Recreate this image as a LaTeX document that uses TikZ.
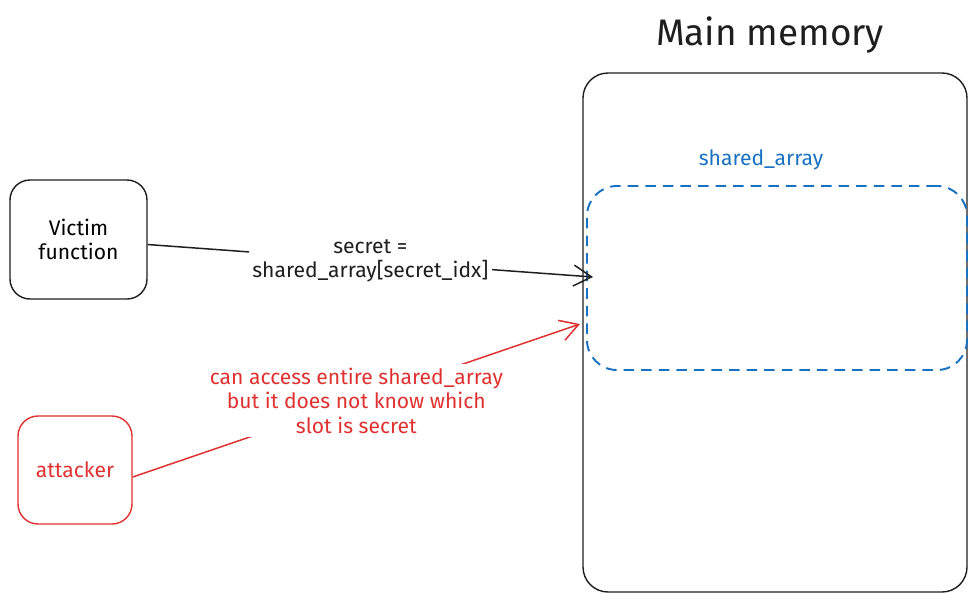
\documentclass[tikz,border=0pt]{standalone}
\usepackage{fontspec}
\setmainfont{Fira Sans}
\usetikzlibrary{arrows.meta,positioning}

\definecolor{inkblack}{HTML}{1E1E1E}
\definecolor{inkred}{HTML}{E03131}
\definecolor{inkblue}{HTML}{1971C2}

\begin{document}
\begin{tikzpicture}[
    box/.style={draw=inkblack, rectangle, rounded corners=0.4cm, line width=0.8pt, align=center, font=\fontsize{12}{14}\selectfont},
    redbox/.style={box, draw=inkred, text=inkred},
    arrow/.style={-{Straight Barb[length=0.36cm,width=0.42cm]}, line width=0.85pt, inkblack},
    redarrow/.style={arrow, inkred},
    lbl/.style={fill=white, align=center, font=\fontsize{12}{14}\selectfont, inner sep=2pt},
    node distance=0.5cm
]
\useasboundingbox (0,0) rectangle (19.52,-12.06);

% Main memory
\node[box, rounded corners=0.5cm, minimum width=7.68cm, minimum height=10.38cm] (mem) at (15.5,-6.65) {};
\node[font=\fontsize{21}{24}\selectfont\mdseries, text=inkblack] (title) at (15.4,-0.7) {Main memory};

% shared array region
\node[draw=inkblue, dashed, dash pattern=on 6pt off 4pt, line width=1.1pt, rounded corners=0.6cm,
      minimum width=7.6cm, minimum height=3.68cm] (shared) at (15.54,-5.56) {};
\node[text=inkblue, font=\fontsize{12}{14}\selectfont] (sharedlbl) at (15.22,-3.2) {shared\_array};

% Actors
\node[box, minimum width=2.74cm, minimum height=2.38cm] (victim) at (1.57,-4.79) {Victim\\function};
\node[redbox, minimum width=2.28cm, minimum height=2.16cm] (attacker) at (1.5,-9.4) {attacker};

% Arrow ends
\coordinate (hit1) at (11.86,-5.54);
\coordinate (hit2) at (11.6,-6.48);

% Arrows
\draw[arrow] (victim) -- node[lbl, text=inkblack] (readlbl) {secret =\\shared\_array[secret\_idx]} (hit1);
\draw[redarrow] ([yshift=-0.14cm]attacker.east) -- node[lbl, text=inkred] (attacklbl)
    {can access entire shared\_array\\but it does not know which\\slot is secret} (hit2);

\end{tikzpicture}
\end{document}
